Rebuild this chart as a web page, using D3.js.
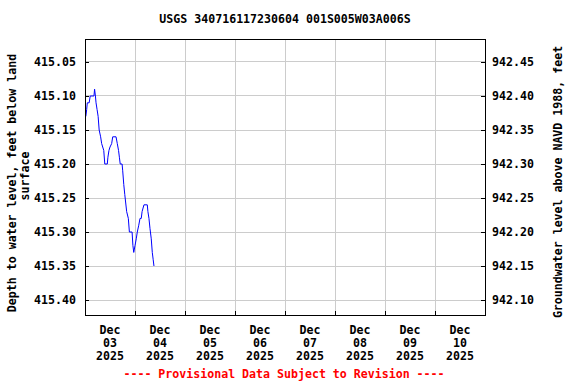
<!DOCTYPE html>
<html>
<head>
<meta charset="utf-8">
<script src="https://cdn.jsdelivr.net/npm/d3@7"></script>
<style>
  body { margin: 0; background: #fff; }
  text { font-family: "DejaVu Sans Mono", monospace; font-weight: bold; }
</style>
</head>
<body>
<div id="chartArea"></div>
<script>
const width = 576;
const height = 384;

// hours after Dec 03 2025 00:00, depth to water (ft below land surface)
const hours = [0.4, 0.8, 1.1, 2.0, 2.5, 4.3, 4.6, 5.0, 5.3, 5.8, 6.3, 6.8, 7.5, 8.0, 9.0, 9.5,
    10.7, 11.0, 11.5, 12.0, 12.8, 13.3, 14.9, 15.5, 16.1, 16.5, 16.9, 17.8, 18.1, 18.6, 19.1,
    20.0, 20.8, 21.3, 22.6, 23.0, 23.4, 24.0, 24.6, 25.1, 25.8, 26.4, 27.0, 27.4, 28.3, 29.9,
    30.2, 30.7, 31.2, 31.8, 32.3, 32.7, 33.1];
const depth = [415.13, 415.12, 415.11, 415.11, 415.10, 415.10, 415.09, 415.10, 415.11, 415.12,
    415.13, 415.15, 415.16, 415.17, 415.18, 415.20, 415.20, 415.19, 415.18, 415.175, 415.17,
    415.16, 415.16, 415.17, 415.18, 415.19, 415.20, 415.20, 415.21, 415.23, 415.245, 415.27,
    415.28, 415.30, 415.30, 415.32, 415.33, 415.32, 415.31, 415.30, 415.29, 415.28, 415.28,
    415.27, 415.26, 415.26, 415.27, 415.28, 415.295, 415.31, 415.33, 415.34, 415.35];

const leftTicks = [415.05, 415.10, 415.15, 415.20, 415.25, 415.30, 415.35, 415.40];
const rightTicks = [942.45, 942.40, 942.35, 942.30, 942.25, 942.20, 942.15, 942.10];
const dayLabels = ["03", "04", "05", "06", "07", "08", "09", "10"];
const datumOffset = 1357.50; // elevation = datumOffset - depth

const margin = { top: 39, right: 91, bottom: 69, left: 85 };
const start = new Date(2025, 11, 3);
const end = new Date(2025, 11, 11);

const svg = d3.select("#chartArea").append("svg")
    .attr("width", width)
    .attr("height", height);

const x = d3.scaleTime().domain([start, end]).range([margin.left, width - margin.right]);
const y = d3.scaleLinear().domain([415.0162, 415.422]).range([margin.top, height - margin.bottom]);
const y2 = d3.scaleLinear().domain([datumOffset - 415.0162, datumOffset - 415.422])
    .range([margin.top, height - margin.bottom]);

const days = d3.timeDay.range(start, end);

// grid
svg.append("g").selectAll("line")
    .data(days.slice(1))
    .enter().append("line")
    .attr("x1", d => x(d)).attr("x2", d => x(d))
    .attr("y1", margin.top).attr("y2", height - margin.bottom)
    .attr("stroke", "#cccccc").attr("shape-rendering", "crispEdges");

svg.append("g").selectAll("line")
    .data(leftTicks)
    .enter().append("line")
    .attr("x1", margin.left).attr("x2", width - margin.right)
    .attr("y1", d => y(d)).attr("y2", d => y(d))
    .attr("stroke", "#cccccc").attr("shape-rendering", "crispEdges");

// axes with short inside ticks
svg.append("g")
    .attr("transform", `translate(${margin.left},0)`)
    .call(d3.axisLeft(y).tickValues(leftTicks).tickSize(-4).tickPadding(9).tickFormat(d3.format(".2f")))
    .call(g => g.select(".domain").remove());

svg.append("g")
    .attr("transform", `translate(${width - margin.right},0)`)
    .call(d3.axisRight(y2).tickValues(rightTicks).tickSize(-4).tickPadding(7).tickFormat(d3.format(".2f")))
    .call(g => g.select(".domain").remove());

svg.append("g")
    .attr("transform", `translate(0,${height - margin.bottom})`)
    .call(d3.axisBottom(x).tickValues(days.slice(1)).tickSize(-4).tickFormat(""))
    .call(g => g.select(".domain").remove());

svg.selectAll(".tick line").attr("stroke", "#000").attr("shape-rendering", "crispEdges");
svg.selectAll(".tick text").style("font-size", "11.6px").attr("fill", "#000")
    .style("font-family", "'DejaVu Sans Mono', monospace").style("font-weight", "bold");

// date labels at noon
const labels = svg.append("g").selectAll("text")
    .data(days)
    .enter().append("text")
    .attr("text-anchor", "middle")
    .style("font-size", "11.6px")
    .attr("x", d => x(d3.timeHour.offset(d, 12)))
    .attr("y", 334);
labels.append("tspan").text("Dec");
labels.append("tspan").attr("dy", 13).attr("x", d => x(d3.timeHour.offset(d, 12))).text((d, i) => dayLabels[i]);
labels.append("tspan").attr("dy", 13).attr("x", d => x(d3.timeHour.offset(d, 12))).text("2025");

// data line
const points = hours.map((h, i) => ({ t: d3.timeMinute.offset(start, Math.round(h * 60)), v: depth[i] }));
svg.append("path")
    .datum(points)
    .attr("fill", "none")
    .attr("stroke", "#0000ff")
    .attr("stroke-width", 1)
    .attr("d", d3.line().x(d => x(d.t)).y(d => y(d.v)));

// frame
svg.append("rect")
    .attr("x", margin.left).attr("y", margin.top)
    .attr("width", width - margin.left - margin.right)
    .attr("height", height - margin.top - margin.bottom)
    .attr("fill", "none").attr("stroke", "#000").attr("stroke-width", 1)
    .attr("shape-rendering", "crispEdges");

// titles
svg.append("text")
    .attr("x", 285).attr("y", 23)
    .attr("text-anchor", "middle")
    .style("font-size", "11.6px")
    .text("USGS 340716117230604 001S005W03A006S");

svg.append("text")
    .attr("transform", "translate(16,183) rotate(-90)")
    .attr("text-anchor", "middle")
    .style("font-size", "11.6px")
    .text("Depth to water level, feet below land");
svg.append("text")
    .attr("transform", "translate(29,176) rotate(-90)")
    .attr("text-anchor", "middle")
    .style("font-size", "11.6px")
    .text("surface");

svg.append("text")
    .attr("transform", "translate(562,182) rotate(-90)")
    .attr("text-anchor", "middle")
    .style("font-size", "11.6px")
    .text("Groundwater level above NAVD 1988, feet");

svg.append("text")
    .attr("x", 284).attr("y", 378)
    .attr("text-anchor", "middle")
    .style("font-size", "11.6px")
    .attr("fill", "#ff0000")
    .text("---- Provisional Data Subject to Revision ----");
</script>
</body>
</html>
